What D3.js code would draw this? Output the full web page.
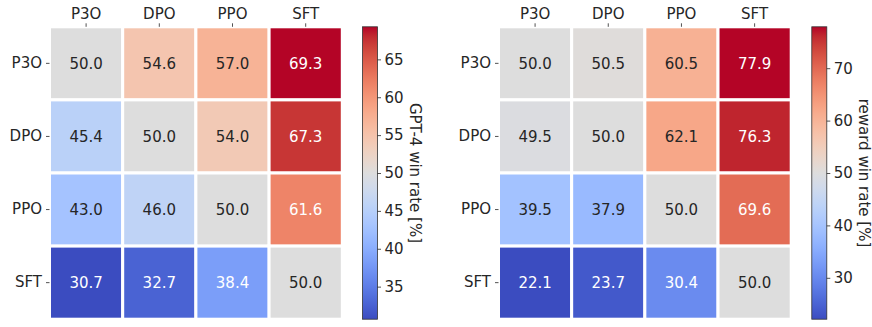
<!DOCTYPE html>
<html>
<head>
<meta charset="utf-8">
<script src="https://cdn.jsdelivr.net/npm/d3@7"></script>
<style>
  html, body { margin: 0; padding: 0; background: #fff; }
  svg { display: block; }
  text { font-family: "DejaVu Sans", sans-serif; }
</style>
</head>
<body>
<svg id="chart" width="872" height="327"></svg>
<script>
// ---- data ----
const models = ["P3O", "DPO", "PPO", "SFT"];
const gptWinRate = [
  [50.0, 54.6, 57.0, 69.3],
  [45.4, 50.0, 54.0, 67.3],
  [43.0, 46.0, 50.0, 61.6],
  [30.7, 32.7, 38.4, 50.0]
];
const rewardWinRate = [
  [50.0, 50.5, 60.5, 77.9],
  [49.5, 50.0, 62.1, 76.3],
  [39.5, 37.9, 50.0, 69.6],
  [22.1, 23.7, 30.4, 50.0]
];
const gptTicks = [35, 40, 45, 50, 55, 60, 65];
const rewardTicks = [30, 40, 50, 60, 70];
const gptLabel = "GPT-4 win rate [%]";
const rewardLabel = "reward win rate [%]";

// matplotlib "coolwarm" (Moreland) control colours
const coolwarmStops = [
  [59,76,192],[68,90,204],[77,104,215],[87,117,225],[98,130,234],[108,142,241],
  [119,154,247],[130,165,251],[141,176,254],[152,185,255],[163,194,255],[174,201,253],
  [184,208,249],[194,213,244],[204,217,238],[213,219,230],[221,221,221],[229,216,209],
  [236,211,197],[241,204,185],[245,196,173],[247,187,160],[247,177,148],[247,166,135],
  [244,154,123],[241,141,111],[236,127,99],[229,112,88],[222,96,77],[213,80,66],
  [203,62,56],[192,40,47],[180,4,38]
];
const coolwarm = d3.interpolateRgbBasis
  ? d3.piecewise(d3.interpolateRgb, coolwarmStops.map(c => d3.rgb(c[0], c[1], c[2])))
  : null;

function luminance(col) {
  const c = d3.rgb(col);
  const lin = v => { v /= 255; return v <= 0.03928 ? v / 12.92 : Math.pow((v + 0.055) / 1.055, 2.4); };
  return 0.2126 * lin(c.r) + 0.7152 * lin(c.g) + 0.0722 * lin(c.b);
}

const svg = d3.select("#chart");
const txt = "#262626";

function drawPanel(opt) {
  const { data, x0, x1, y0, y1, cbX, ticks, label } = opt;
  const flat = data.flat();
  const vmin = d3.min(flat), vmax = d3.max(flat);
  const color = d3.scaleSequential(coolwarm).domain([vmin, vmax]);

  const x = d3.scaleBand().domain(models).range([x0, x1]);
  const y = d3.scaleBand().domain(models).range([y0, y1]);
  const g = svg.append("g");

  const cells = [];
  data.forEach((row, i) => row.forEach((v, j) => cells.push({ r: models[i], c: models[j], v })));

  g.selectAll("rect.cell").data(cells).join("rect")
    .attr("class", "cell")
    .attr("x", d => x(d.c)).attr("y", d => y(d.r))
    .attr("width", x.bandwidth()).attr("height", y.bandwidth())
    .attr("fill", d => color(d.v))
    .attr("stroke", "#fff").attr("stroke-width", 3);

  g.selectAll("text.ann").data(cells).join("text")
    .attr("class", "ann")
    .attr("x", d => x(d.c) + x.bandwidth() / 2)
    .attr("y", d => y(d.r) + y.bandwidth() / 2)
    .attr("dy", "0.36em")
    .attr("text-anchor", "middle")
    .attr("font-size", 15)
    .attr("fill", d => luminance(color(d.v)) > 0.408 ? txt : "#ffffff")
    .text(d => d.v.toFixed(1));

  // top x axis
  const xa = g.append("g").attr("transform", `translate(0,${y0})`)
    .call(d3.axisTop(x).tickSize(3.5).tickPadding(4));
  xa.select(".domain").remove();
  xa.selectAll("line").attr("stroke", txt).attr("stroke-width", 0.8);
  xa.selectAll("text").attr("font-size", 15).attr("fill", txt).attr("font-family", "DejaVu Sans");

  // left y axis
  const ya = g.append("g").attr("transform", `translate(${x0},0)`)
    .call(d3.axisLeft(y).tickSize(3.5).tickPadding(4));
  ya.select(".domain").remove();
  ya.selectAll("line").attr("stroke", txt).attr("stroke-width", 0.8);
  ya.selectAll("text").attr("font-size", 15).attr("fill", txt).attr("font-family", "DejaVu Sans");

  // colorbar
  const cbW = 15;
  const cy = d3.scaleLinear().domain([vmin, vmax]).range([y1, y0]);
  const gid = "grad" + Math.round(cbX);
  const grad = svg.append("defs").append("linearGradient")
    .attr("id", gid).attr("x1", 0).attr("y1", 1).attr("x2", 0).attr("y2", 0);
  d3.range(0, 1.0001, 1 / 64).forEach(t => {
    grad.append("stop").attr("offset", t).attr("stop-color", coolwarm(t));
  });
  g.append("rect").attr("x", cbX).attr("y", y0).attr("width", cbW).attr("height", y1 - y0)
    .attr("fill", `url(#${gid})`).attr("stroke", "#333").attr("stroke-width", 0.8);

  const ca = g.append("g").attr("transform", `translate(${cbX + cbW},0)`)
    .call(d3.axisRight(cy).tickValues(ticks).tickSize(3.5).tickPadding(3.5));
  ca.select(".domain").remove();
  ca.selectAll("line").attr("stroke", txt).attr("stroke-width", 0.8);
  ca.selectAll("text").attr("font-size", 15).attr("fill", txt).attr("font-family", "DejaVu Sans");

  g.append("text")
    .attr("transform", `translate(${cbX + cbW + 38},${(y0 + y1) / 2}) rotate(90)`)
    .attr("text-anchor", "middle")
    .attr("dy", "0.36em")
    .attr("font-size", 15)
    .attr("fill", txt)
    .text(label);
}

drawPanel({ data: gptWinRate, x0: 49.5, x1: 342.3, y0: 26.8, y1: 319.2, cbX: 362.5, ticks: gptTicks, label: gptLabel });
drawPanel({ data: rewardWinRate, x0: 498.5, x1: 791.2, y0: 26.8, y1: 319.2, cbX: 811.8, ticks: rewardTicks, label: rewardLabel });
</script>
</body>
</html>
